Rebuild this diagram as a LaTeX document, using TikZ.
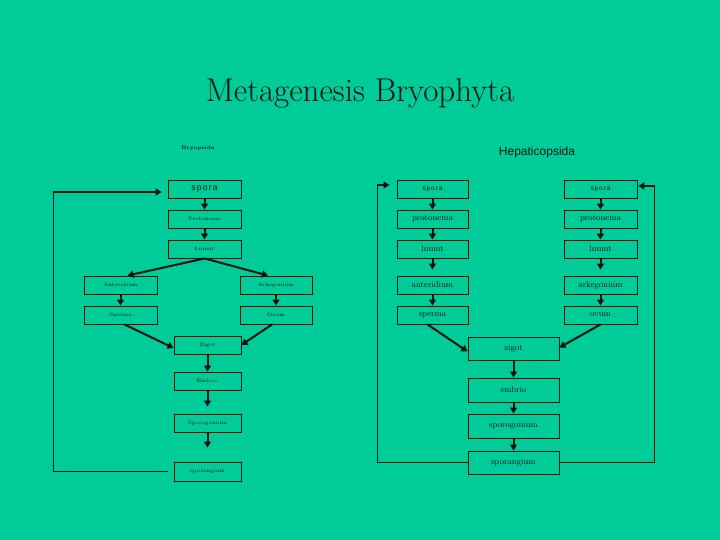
\documentclass[tikz,border=0pt]{standalone}
\usepackage{fontspec}
\newfontfamily\spacedsans[LetterSpace=14]{Liberation Sans}
\newfontfamily\headsans{Liberation Sans}
\usetikzlibrary{arrows.meta}
\definecolor{bg}{RGB}{0,204,153}
\definecolor{ink}{RGB}{10,20,15}
\begin{document}
\begin{tikzpicture}[x=1pt,y=-1pt,
  box/.style={draw=ink, line width=0.9pt, minimum height=18pt, inner sep=0pt, anchor=center, text=ink},
  tiny/.style={font=\fontsize{5}{6}\selectfont},
  hand/.style={font=\fontsize{8.5}{10}\selectfont},
  arr/.style={draw=ink, line width=2pt, -{Triangle[length=6pt,width=7pt]}},
  loopline/.style={draw=ink, line width=1.2pt, -{Triangle[length=6pt,width=7pt]}}]
\fill[bg] (0,0) rectangle (720,540);
\useasboundingbox (0,0) rectangle (720,540);

% title and headers
\node[text=ink, font=\fontsize{33}{40}\selectfont] (title) at (360,93) {Metagenesis Bryophyta};
\node[text=ink, font=\fontsize{5}{6}\selectfont\bfseries] (bryo) at (198,148) {Bryopsida};
\node[text=ink, font=\headsans\fontsize{12}{14}\selectfont] (hep) at (537,152) {Hepaticopsida};

% left panel (Bryopsida)
\node[box, minimum width=73pt, font=\spacedsans\fontsize{8.5}{10}\selectfont] (sL1) at (204.5,189) {spora};
\node[box, minimum width=73pt, tiny] (sL2) at (204.5,219) {Protonema};
\node[box, minimum width=73pt, tiny] (sL3) at (204.5,249) {Lumut};
\node[box, minimum width=73pt, tiny] (aL) at (120.5,285) {Anteridium};
\node[box, minimum width=72pt, tiny] (kL) at (276,285) {Arkegonium};
\node[box, minimum width=73pt, tiny] (spL) at (120.5,315) {Sperma};
\node[box, minimum width=72pt, tiny] (oL) at (276,315) {Ovum};
\node[box, minimum width=67pt, tiny] (zL) at (207.5,345) {Zigot};
\node[box, minimum width=67pt, tiny] (eL) at (207.5,381) {Embrio};
\node[box, minimum width=67pt, tiny] (pL) at (207.5,423) {Sporogonium};
\node[box, minimum width=67pt, minimum height=19pt, tiny] (gL) at (207.5,471.5) {sporangium};

\draw[arr] (sL1) -- (sL2);
\draw[arr] (sL2) -- (sL3);
\draw[arr] (sL3.south) -- ([xshift=7pt]aL.north);
\draw[arr] (sL3.south) -- ([xshift=-8pt]kL.north);
\draw[arr] (aL) -- (spL);
\draw[arr] (kL) -- (oL);
\draw[arr] ([xshift=4pt]spL.south) -- ([yshift=-3pt]zL.west);
\draw[arr] ([xshift=-4pt]oL.south) -- (zL.east);
\draw[arr] (zL) -- (eL);
\draw[arr] (eL) -- ([yshift=7pt]pL.north);
\draw[arr] (pL) -- ([yshift=14pt]gL.north);
\draw[loopline] ([xshift=-6pt]gL.west) -- ++(-114,0) |- ([xshift=-6pt,yshift=-3pt]sL1.west);

% right panel (Hepaticopsida)
\node[box, minimum width=71pt, font=\spacedsans\fontsize{6.5}{8}\selectfont] (sA1) at (432.5,189) {spora};
\node[box, minimum width=71pt, hand] (sA2) at (432.5,219) {protonema};
\node[box, minimum width=71pt, hand] (sA3) at (432.5,249) {lumut};
\node[box, minimum width=71pt, hand] (aA) at (432.5,285) {anteridium};
\node[box, minimum width=71pt, hand] (spA) at (432.5,315) {sperma};
\node[box, minimum width=73pt, font=\spacedsans\fontsize{6.5}{8}\selectfont] (sB1) at (600.5,189) {spora};
\node[box, minimum width=73pt, hand] (sB2) at (600.5,219) {protonema};
\node[box, minimum width=73pt, hand] (sB3) at (600.5,249) {lumut};
\node[box, minimum width=73pt, hand] (kB) at (600.5,285) {arkegonium};
\node[box, minimum width=73pt, hand] (oB) at (600.5,315) {ovum};
\node[box, minimum width=91pt, minimum height=23pt, hand] (zR) at (513.5,348.5) {zigot};
\node[box, minimum width=91pt, minimum height=24pt, hand] (eR) at (513.5,390) {embrio};
\node[box, minimum width=91pt, minimum height=24pt, hand] (pR) at (513.5,426) {sporogonium};
\node[box, minimum width=91pt, minimum height=23pt, hand] (gR) at (513.5,462.5) {sporangium};

\draw[arr] (sA1) -- (sA2);
\draw[arr] (sA2) -- (sA3);
\draw[arr] (sA3) -- ([yshift=6pt]aA.north);
\draw[arr] (aA) -- (spA);
\draw[arr] (sB1) -- (sB2);
\draw[arr] (sB2) -- (sB3);
\draw[arr] (sB3) -- ([yshift=6pt]kB.north);
\draw[arr] (kB) -- (oB);
\draw[arr] ([xshift=-5pt]spA.south) -- ([yshift=-3pt]zR.west);
\draw[arr] (oB.south) -- ([yshift=1pt]zR.east);
\draw[arr] (zR) -- (eR);
\draw[arr] (eR) -- (pR);
\draw[arr] (pR) -- (gR);
\draw[loopline] (gR.west) -- ++(-90,0) |- ([xshift=-7pt,yshift=4pt]sA1.west);
\draw[loopline] (gR.east) -- ++(95,0) |- ([xshift=1pt,yshift=3pt]sB1.east);
\end{tikzpicture}
\end{document}
